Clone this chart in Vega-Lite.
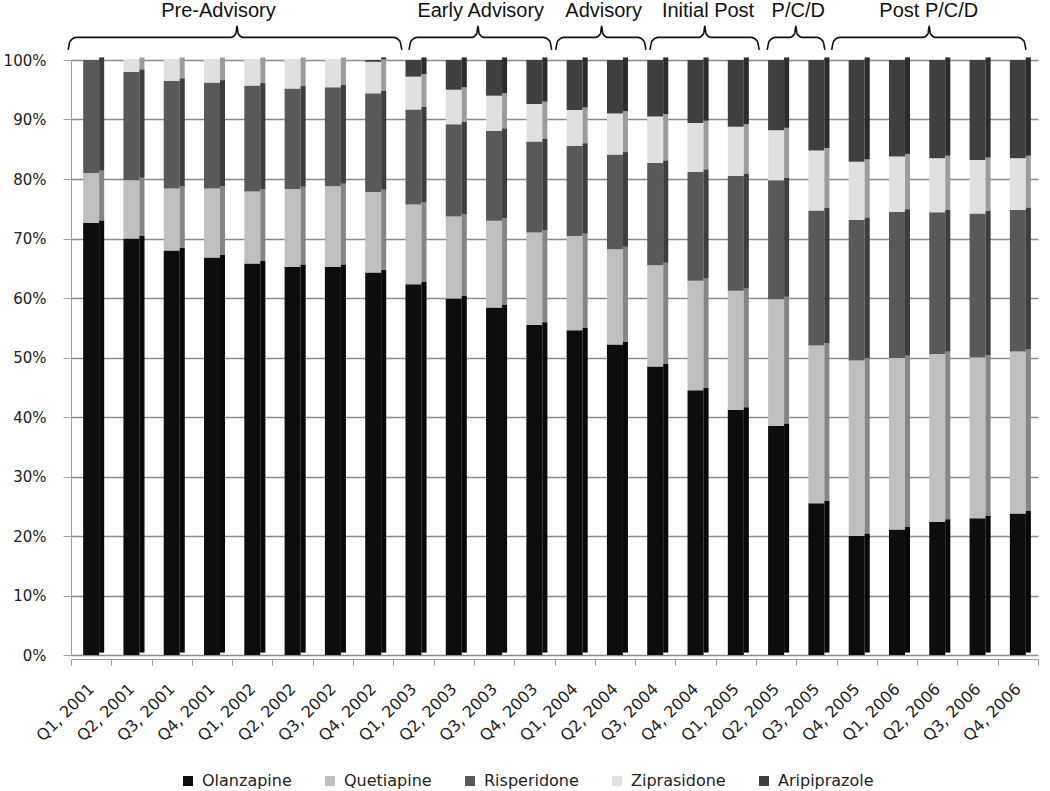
{
  "$schema": "https://vega.github.io/schema/vega-lite/v6.json",
  "width": 967,
  "height": 595,
  "autosize": {"type": "none"},
  "padding": {"left": 71, "top": 60, "right": 12, "bottom": 136},
  "background": "white",
  "config": {"view": {"stroke": null}, "font": "DejaVu Sans"},
  "datasets": {
    "shares": [
      {"q":"Q1, 2001","d":"Olanzapine","k":1,"v":72.6},{"q":"Q1, 2001","d":"Quetiapine","k":2,"v":8.4},{"q":"Q1, 2001","d":"Risperidone","k":3,"v":19.0},{"q":"Q1, 2001","d":"Ziprasidone","k":4,"v":0},{"q":"Q1, 2001","d":"Aripiprazole","k":5,"v":0},
      {"q":"Q2, 2001","d":"Olanzapine","k":1,"v":70.0},{"q":"Q2, 2001","d":"Quetiapine","k":2,"v":9.8},{"q":"Q2, 2001","d":"Risperidone","k":3,"v":18.2},{"q":"Q2, 2001","d":"Ziprasidone","k":4,"v":2.0},{"q":"Q2, 2001","d":"Aripiprazole","k":5,"v":0},
      {"q":"Q3, 2001","d":"Olanzapine","k":1,"v":68.0},{"q":"Q3, 2001","d":"Quetiapine","k":2,"v":10.4},{"q":"Q3, 2001","d":"Risperidone","k":3,"v":18.1},{"q":"Q3, 2001","d":"Ziprasidone","k":4,"v":3.5},{"q":"Q3, 2001","d":"Aripiprazole","k":5,"v":0},
      {"q":"Q4, 2001","d":"Olanzapine","k":1,"v":66.8},{"q":"Q4, 2001","d":"Quetiapine","k":2,"v":11.6},{"q":"Q4, 2001","d":"Risperidone","k":3,"v":17.8},{"q":"Q4, 2001","d":"Ziprasidone","k":4,"v":3.8},{"q":"Q4, 2001","d":"Aripiprazole","k":5,"v":0},
      {"q":"Q1, 2002","d":"Olanzapine","k":1,"v":65.8},{"q":"Q1, 2002","d":"Quetiapine","k":2,"v":12.1},{"q":"Q1, 2002","d":"Risperidone","k":3,"v":17.8},{"q":"Q1, 2002","d":"Ziprasidone","k":4,"v":4.3},{"q":"Q1, 2002","d":"Aripiprazole","k":5,"v":0},
      {"q":"Q2, 2002","d":"Olanzapine","k":1,"v":65.2},{"q":"Q2, 2002","d":"Quetiapine","k":2,"v":13.1},{"q":"Q2, 2002","d":"Risperidone","k":3,"v":16.9},{"q":"Q2, 2002","d":"Ziprasidone","k":4,"v":4.8},{"q":"Q2, 2002","d":"Aripiprazole","k":5,"v":0},
      {"q":"Q3, 2002","d":"Olanzapine","k":1,"v":65.2},{"q":"Q3, 2002","d":"Quetiapine","k":2,"v":13.6},{"q":"Q3, 2002","d":"Risperidone","k":3,"v":16.6},{"q":"Q3, 2002","d":"Ziprasidone","k":4,"v":4.6},{"q":"Q3, 2002","d":"Aripiprazole","k":5,"v":0},
      {"q":"Q4, 2002","d":"Olanzapine","k":1,"v":64.3},{"q":"Q4, 2002","d":"Quetiapine","k":2,"v":13.5},{"q":"Q4, 2002","d":"Risperidone","k":3,"v":16.6},{"q":"Q4, 2002","d":"Ziprasidone","k":4,"v":5.3},{"q":"Q4, 2002","d":"Aripiprazole","k":5,"v":0.3},
      {"q":"Q1, 2003","d":"Olanzapine","k":1,"v":62.3},{"q":"Q1, 2003","d":"Quetiapine","k":2,"v":13.4},{"q":"Q1, 2003","d":"Risperidone","k":3,"v":16.0},{"q":"Q1, 2003","d":"Ziprasidone","k":4,"v":5.5},{"q":"Q1, 2003","d":"Aripiprazole","k":5,"v":2.8},
      {"q":"Q2, 2003","d":"Olanzapine","k":1,"v":59.9},{"q":"Q2, 2003","d":"Quetiapine","k":2,"v":13.8},{"q":"Q2, 2003","d":"Risperidone","k":3,"v":15.5},{"q":"Q2, 2003","d":"Ziprasidone","k":4,"v":5.8},{"q":"Q2, 2003","d":"Aripiprazole","k":5,"v":5.0},
      {"q":"Q3, 2003","d":"Olanzapine","k":1,"v":58.4},{"q":"Q3, 2003","d":"Quetiapine","k":2,"v":14.6},{"q":"Q3, 2003","d":"Risperidone","k":3,"v":15.1},{"q":"Q3, 2003","d":"Ziprasidone","k":4,"v":5.9},{"q":"Q3, 2003","d":"Aripiprazole","k":5,"v":6.0},
      {"q":"Q4, 2003","d":"Olanzapine","k":1,"v":55.5},{"q":"Q4, 2003","d":"Quetiapine","k":2,"v":15.5},{"q":"Q4, 2003","d":"Risperidone","k":3,"v":15.3},{"q":"Q4, 2003","d":"Ziprasidone","k":4,"v":6.3},{"q":"Q4, 2003","d":"Aripiprazole","k":5,"v":7.4},
      {"q":"Q1, 2004","d":"Olanzapine","k":1,"v":54.6},{"q":"Q1, 2004","d":"Quetiapine","k":2,"v":15.8},{"q":"Q1, 2004","d":"Risperidone","k":3,"v":15.2},{"q":"Q1, 2004","d":"Ziprasidone","k":4,"v":6.0},{"q":"Q1, 2004","d":"Aripiprazole","k":5,"v":8.4},
      {"q":"Q2, 2004","d":"Olanzapine","k":1,"v":52.2},{"q":"Q2, 2004","d":"Quetiapine","k":2,"v":16.0},{"q":"Q2, 2004","d":"Risperidone","k":3,"v":15.9},{"q":"Q2, 2004","d":"Ziprasidone","k":4,"v":6.9},{"q":"Q2, 2004","d":"Aripiprazole","k":5,"v":9.0},
      {"q":"Q3, 2004","d":"Olanzapine","k":1,"v":48.5},{"q":"Q3, 2004","d":"Quetiapine","k":2,"v":17.0},{"q":"Q3, 2004","d":"Risperidone","k":3,"v":17.2},{"q":"Q3, 2004","d":"Ziprasidone","k":4,"v":7.8},{"q":"Q3, 2004","d":"Aripiprazole","k":5,"v":9.5},
      {"q":"Q4, 2004","d":"Olanzapine","k":1,"v":44.5},{"q":"Q4, 2004","d":"Quetiapine","k":2,"v":18.4},{"q":"Q4, 2004","d":"Risperidone","k":3,"v":18.3},{"q":"Q4, 2004","d":"Ziprasidone","k":4,"v":8.2},{"q":"Q4, 2004","d":"Aripiprazole","k":5,"v":10.6},
      {"q":"Q1, 2005","d":"Olanzapine","k":1,"v":41.2},{"q":"Q1, 2005","d":"Quetiapine","k":2,"v":20.0},{"q":"Q1, 2005","d":"Risperidone","k":3,"v":19.3},{"q":"Q1, 2005","d":"Ziprasidone","k":4,"v":8.3},{"q":"Q1, 2005","d":"Aripiprazole","k":5,"v":11.2},
      {"q":"Q2, 2005","d":"Olanzapine","k":1,"v":38.5},{"q":"Q2, 2005","d":"Quetiapine","k":2,"v":21.3},{"q":"Q2, 2005","d":"Risperidone","k":3,"v":20.0},{"q":"Q2, 2005","d":"Ziprasidone","k":4,"v":8.4},{"q":"Q2, 2005","d":"Aripiprazole","k":5,"v":11.8},
      {"q":"Q3, 2005","d":"Olanzapine","k":1,"v":25.5},{"q":"Q3, 2005","d":"Quetiapine","k":2,"v":26.5},{"q":"Q3, 2005","d":"Risperidone","k":3,"v":22.7},{"q":"Q3, 2005","d":"Ziprasidone","k":4,"v":10.1},{"q":"Q3, 2005","d":"Aripiprazole","k":5,"v":15.2},
      {"q":"Q4, 2005","d":"Olanzapine","k":1,"v":20.0},{"q":"Q4, 2005","d":"Quetiapine","k":2,"v":29.5},{"q":"Q4, 2005","d":"Risperidone","k":3,"v":23.6},{"q":"Q4, 2005","d":"Ziprasidone","k":4,"v":9.8},{"q":"Q4, 2005","d":"Aripiprazole","k":5,"v":17.1},
      {"q":"Q1, 2006","d":"Olanzapine","k":1,"v":21.1},{"q":"Q1, 2006","d":"Quetiapine","k":2,"v":28.8},{"q":"Q1, 2006","d":"Risperidone","k":3,"v":24.6},{"q":"Q1, 2006","d":"Ziprasidone","k":4,"v":9.3},{"q":"Q1, 2006","d":"Aripiprazole","k":5,"v":16.2},
      {"q":"Q2, 2006","d":"Olanzapine","k":1,"v":22.4},{"q":"Q2, 2006","d":"Quetiapine","k":2,"v":28.2},{"q":"Q2, 2006","d":"Risperidone","k":3,"v":23.8},{"q":"Q2, 2006","d":"Ziprasidone","k":4,"v":9.1},{"q":"Q2, 2006","d":"Aripiprazole","k":5,"v":16.5},
      {"q":"Q3, 2006","d":"Olanzapine","k":1,"v":23.0},{"q":"Q3, 2006","d":"Quetiapine","k":2,"v":27.0},{"q":"Q3, 2006","d":"Risperidone","k":3,"v":24.2},{"q":"Q3, 2006","d":"Ziprasidone","k":4,"v":9.0},{"q":"Q3, 2006","d":"Aripiprazole","k":5,"v":16.8},
      {"q":"Q4, 2006","d":"Olanzapine","k":1,"v":23.8},{"q":"Q4, 2006","d":"Quetiapine","k":2,"v":27.2},{"q":"Q4, 2006","d":"Risperidone","k":3,"v":23.8},{"q":"Q4, 2006","d":"Ziprasidone","k":4,"v":8.7},{"q":"Q4, 2006","d":"Aripiprazole","k":5,"v":16.5}
    ],
    "brackets": [
      {"g":"Pre-Advisory","bx":-0.07,"by":101.7},{"g":"Pre-Advisory","bx":-0.02,"by":103.2},{"g":"Pre-Advisory","bx":0.13,"by":103.8},{"g":"Pre-Advisory","bx":3.97,"by":103.8},{"g":"Pre-Advisory","bx":4.09,"by":104.4},{"g":"Pre-Advisory","bx":4.12,"by":105.7},{"g":"Pre-Advisory","bx":4.15,"by":104.4},{"g":"Pre-Advisory","bx":4.27,"by":103.8},{"g":"Pre-Advisory","bx":8.01,"by":103.8},{"g":"Pre-Advisory","bx":8.16,"by":103.2},{"g":"Pre-Advisory","bx":8.21,"by":101.7},
      {"g":"Early Advisory","bx":8.39,"by":101.7},{"g":"Early Advisory","bx":8.44,"by":103.2},{"g":"Early Advisory","bx":8.59,"by":103.8},{"g":"Early Advisory","bx":9.95,"by":103.8},{"g":"Early Advisory","bx":10.07,"by":104.4},{"g":"Early Advisory","bx":10.10,"by":105.7},{"g":"Early Advisory","bx":10.13,"by":104.4},{"g":"Early Advisory","bx":10.25,"by":103.8},{"g":"Early Advisory","bx":11.73,"by":103.8},{"g":"Early Advisory","bx":11.88,"by":103.2},{"g":"Early Advisory","bx":11.93,"by":101.7},
      {"g":"Advisory","bx":12.03,"by":101.7},{"g":"Advisory","bx":12.08,"by":103.2},{"g":"Advisory","bx":12.23,"by":103.8},{"g":"Advisory","bx":13.02,"by":103.8},{"g":"Advisory","bx":13.14,"by":104.4},{"g":"Advisory","bx":13.17,"by":105.7},{"g":"Advisory","bx":13.20,"by":104.4},{"g":"Advisory","bx":13.32,"by":103.8},{"g":"Advisory","bx":14.07,"by":103.8},{"g":"Advisory","bx":14.22,"by":103.2},{"g":"Advisory","bx":14.27,"by":101.7},
      {"g":"Initial Post","bx":14.37,"by":101.7},{"g":"Initial Post","bx":14.42,"by":103.2},{"g":"Initial Post","bx":14.57,"by":103.8},{"g":"Initial Post","bx":15.58,"by":103.8},{"g":"Initial Post","bx":15.70,"by":104.4},{"g":"Initial Post","bx":15.73,"by":105.7},{"g":"Initial Post","bx":15.76,"by":104.4},{"g":"Initial Post","bx":15.88,"by":103.8},{"g":"Initial Post","bx":16.88,"by":103.8},{"g":"Initial Post","bx":17.03,"by":103.2},{"g":"Initial Post","bx":17.08,"by":101.7},
      {"g":"P/C/D","bx":17.28,"by":101.7},{"g":"P/C/D","bx":17.33,"by":103.2},{"g":"P/C/D","bx":17.48,"by":103.8},{"g":"P/C/D","bx":17.84,"by":103.8},{"g":"P/C/D","bx":17.96,"by":104.4},{"g":"P/C/D","bx":17.99,"by":105.7},{"g":"P/C/D","bx":18.02,"by":104.4},{"g":"P/C/D","bx":18.14,"by":103.8},{"g":"P/C/D","bx":18.51,"by":103.8},{"g":"P/C/D","bx":18.66,"by":103.2},{"g":"P/C/D","bx":18.71,"by":101.7},
      {"g":"Post P/C/D","bx":18.88,"by":101.7},{"g":"Post P/C/D","bx":18.93,"by":103.2},{"g":"Post P/C/D","bx":19.08,"by":103.8},{"g":"Post P/C/D","bx":21.15,"by":103.8},{"g":"Post P/C/D","bx":21.27,"by":104.4},{"g":"Post P/C/D","bx":21.30,"by":105.7},{"g":"Post P/C/D","bx":21.33,"by":104.4},{"g":"Post P/C/D","bx":21.45,"by":103.8},{"g":"Post P/C/D","bx":23.50,"by":103.8},{"g":"Post P/C/D","bx":23.65,"by":103.2},{"g":"Post P/C/D","bx":23.70,"by":101.7}
    ],
    "periods": [
      {"g":"Pre-Advisory","lx":3.66,"ly":107.2},
      {"g":"Early Advisory","lx":10.17,"ly":107.2},
      {"g":"Advisory","lx":13.22,"ly":107.2},
      {"g":"Initial Post","lx":15.81,"ly":107.2},
      {"g":"P/C/D","lx":18.05,"ly":107.2},
      {"g":"Post P/C/D","lx":21.29,"ly":107.2}
    ]
  },
  "layer": [
    {
      "data": {"name": "shares"},
      "encoding": {
        "x": {
          "field": "q", "type": "ordinal", "sort": null,
          "scale": {"paddingInner": 0, "paddingOuter": 0},
          "axis": {
            "title": null, "labelAngle": -45, "labelAlign": "right", "labelBaseline": "middle",
            "labelFontSize": 16, "labelFont": "DejaVu Sans", "labelColor": "#222",
            "tickBand": "extent", "tickSize": 6, "tickColor": "#999", "domainColor": "#999",
            "labelPadding": 21, "labelOffset": 0, "offset": 4, "grid": false
          }
        },
        "y": {
          "field": "v", "type": "quantitative", "stack": "zero",
          "scale": {"domain": [0, 100], "nice": false},
          "axis": {
            "title": null, "values": [0,10,20,30,40,50,60,70,80,90,100],
            "labelExpr": "datum.value + '%'", "grid": true, "gridColor": "#8a8a8a", "gridWidth": 1.3,
            "domainColor": "#a0a0a0", "tickColor": "#a0a0a0", "tickSize": 8, "labelPadding": 17,
            "labelFontSize": 15, "labelFont": "DejaVu Sans", "labelColor": "#222"
          }
        },
        "order": {"field": "k", "type": "quantitative"}
      },
      "layer": [
        {
          "mark": {"type": "bar", "width": 16},
          "encoding": {
            "color": {
              "field": "d", "type": "nominal",
              "scale": {
                "domain": ["Olanzapine", "Quetiapine", "Risperidone", "Ziprasidone", "Aripiprazole"],
                "range": ["#0d0d0d", "#bfbfbf", "#595959", "#e0e0e0", "#404040"]
              },
              "legend": {
                "orient": "none", "legendX": 109, "legendY": 713, "direction": "horizontal",
                "title": null, "symbolType": "square", "symbolSize": 100, "symbolStrokeWidth": 0,
                "labelFontSize": 16, "labelFont": "DejaVu Sans", "labelColor": "#222",
                "columnPadding": 30, "labelOffset": 6
              }
            }
          }
        },
        {
          "mark": {"type": "bar", "width": 5, "xOffset": 10.5, "yOffset": -2.5},
          "encoding": {"color": {"field": "d", "type": "nominal"}}
        },
        {
          "mark": {"type": "bar", "width": 5, "xOffset": 10.5, "yOffset": -2.5, "color": "black", "opacity": 0.3},
          "encoding": {"detail": {"field": "d"}}
        }
      ]
    },
    {
      "data": {"name": "brackets"},
      "mark": {"type": "line", "interpolate": "monotone", "color": "#111", "strokeWidth": 1.6},
      "encoding": {
        "x": {"field": "bx", "type": "quantitative", "scale": {"domain": [0, 24], "nice": false, "zero": false}, "axis": null},
        "y": {"field": "by", "type": "quantitative", "scale": {"domain": [0, 100], "nice": false}, "axis": null},
        "detail": {"field": "g"}
      }
    },
    {
      "data": {"name": "periods"},
      "mark": {"type": "text", "font": "Liberation Sans", "fontSize": 20, "color": "#111", "baseline": "alphabetic", "align": "center"},
      "encoding": {
        "x": {"field": "lx", "type": "quantitative", "scale": {"domain": [0, 24], "nice": false, "zero": false}, "axis": null},
        "y": {"field": "ly", "type": "quantitative", "scale": {"domain": [0, 100], "nice": false}, "axis": null},
        "text": {"field": "g"}
      }
    }
  ],
  "resolve": {"scale": {"x": "independent", "y": "independent"}}
}
